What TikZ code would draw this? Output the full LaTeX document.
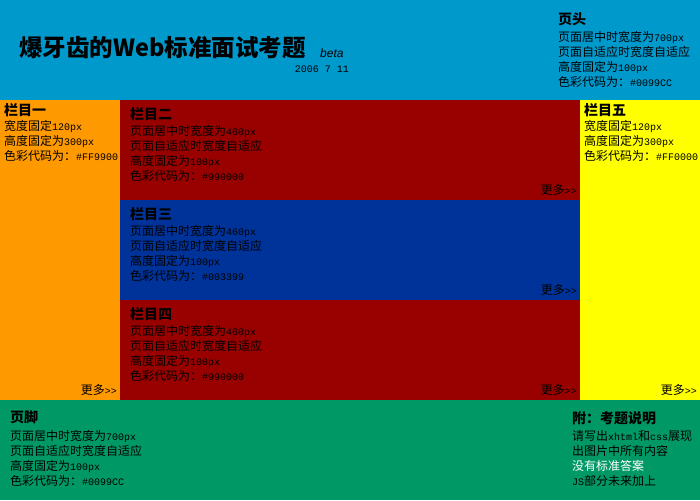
\documentclass[tikz,border=0pt]{standalone}
\usepackage{fontspec}
\setmainfont{Noto Sans CJK SC}
\newfontfamily\latinsans{Liberation Sans}
\newfontfamily\datemono{Liberation Mono}
\newcommand{\ltn}[1]{{\datemono\fontsize{10}{15}\selectfont #1}}
\definecolor{headblue}{HTML}{0099CC}
\definecolor{colorange}{HTML}{FF9900}
\definecolor{coldarkred}{HTML}{990000}
\definecolor{colnavy}{HTML}{003399}
\definecolor{colyellow}{HTML}{FFFF00}
\definecolor{footgreen}{HTML}{009966}
\usetikzlibrary{positioning}

\begin{document}
\begin{tikzpicture}[x=1pt,y=-1pt,
  colhead/.style={anchor=north west,inner sep=0pt,font=\fontsize{14}{16}\selectfont\bfseries},
  colbody/.style={anchor=north west,inner sep=0pt,align=left,font=\fontsize{12}{15}\selectfont},
  moretxt/.style={anchor=south east,inner sep=0pt,font=\fontsize{12}{14}\selectfont}]
\useasboundingbox (0,0) rectangle (700,500);
% blocks of the page
\fill[headblue] (0,0) rectangle (700,100);
\fill[colorange] (0,100) rectangle (120,400);
\fill[coldarkred] (120,100) rectangle (580,200);
\fill[colnavy] (120,200) rectangle (580,300);
\fill[coldarkred] (120,300) rectangle (580,400);
\fill[colyellow] (580,100) rectangle (700,400);
\fill[footgreen] (0,400) rectangle (700,500);
% title
\node[anchor=north west,inner sep=0pt,font=\fontsize{23.5}{26}\selectfont\bfseries] (title) at (19,36) {爆牙齿的Web标准面试考题};
\node[anchor=base west,inner sep=0pt,font=\fontsize{12}{12}\selectfont\latinsans\itshape] (beta) at (320,58) {beta};
\node[anchor=base east,inner sep=0pt,font=\fontsize{10}{12}\selectfont\datemono] (date) at (349,73) {2006 7 11};
% header
\node[colhead] (headh) at (558,12) {页头};
\node[colbody] (headb) at (558,31) {页面居中时宽度为\ltn{700px}\\页面自适应时宽度自适应\\高度固定为\ltn{100px}\\色彩代码为：\ltn{\#0099CC}};
% column one
\node[colhead] (c1h) at (4,103) {栏目一};
\node[colbody] (c1b) at (4,120) {宽度固定\ltn{120px}\\高度固定为\ltn{300px}\\色彩代码为：\ltn{\#FF9900}};
\node[moretxt] (c1m) at (117,396) {更多\ltn{>>}};
% column two
\node[colhead] (c2h) at (130,107) {栏目二};
\node[colbody] (c2b) at (130,125) {页面居中时宽度为\ltn{460px}\\页面自适应时宽度自适应\\高度固定为\ltn{100px}\\色彩代码为：\ltn{\#990000}};
\node[moretxt] (c2m) at (577,196) {更多\ltn{>>}};
% column three
\node[colhead] (c3h) at (130,207) {栏目三};
\node[colbody] (c3b) at (130,225) {页面居中时宽度为\ltn{460px}\\页面自适应时宽度自适应\\高度固定为\ltn{100px}\\色彩代码为：\ltn{\#003399}};
\node[moretxt] (c3m) at (577,296) {更多\ltn{>>}};
% column four
\node[colhead] (c4h) at (130,307) {栏目四};
\node[colbody] (c4b) at (130,325) {页面居中时宽度为\ltn{460px}\\页面自适应时宽度自适应\\高度固定为\ltn{100px}\\色彩代码为：\ltn{\#990000}};
\node[moretxt] (c4m) at (577,396) {更多\ltn{>>}};
% column five
\node[colhead] (c5h) at (584,103) {栏目五};
\node[colbody] (c5b) at (584,120) {宽度固定\ltn{120px}\\高度固定为\ltn{300px}\\色彩代码为：\ltn{\#FF0000}};
\node[moretxt] (c5m) at (697,396) {更多\ltn{>>}};
% footer
\node[colhead] (foot) at (10,411) {页脚};
\node[colbody] (footb) at (10,430) {页面居中时宽度为\ltn{700px}\\页面自适应时宽度自适应\\高度固定为\ltn{100px}\\色彩代码为：\ltn{\#0099CC}};
\node[colhead] (note) at (572,411) {附：考题说明};
\node[colbody] (noteb) at (572,430) {请写出\ltn{xhtml}和\ltn{css}展现\\出图片中所有内容\\\textcolor{white}{没有标准答案}\\\ltn{JS}部分未来加上};
\end{tikzpicture}
\end{document}
